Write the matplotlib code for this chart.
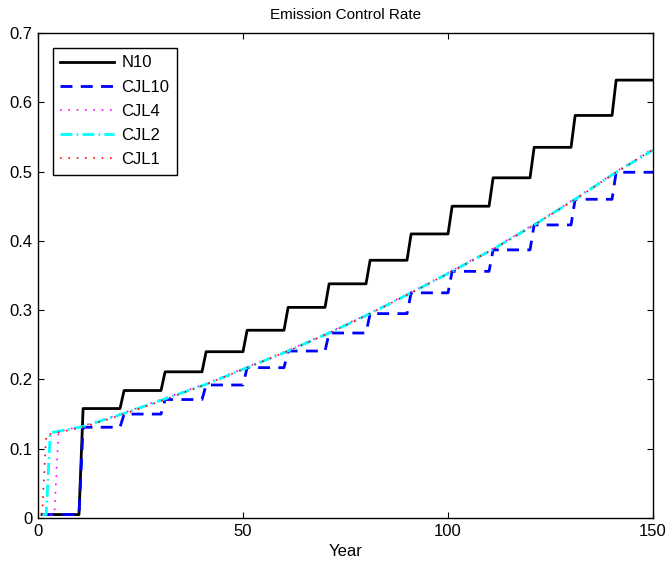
import matplotlib
matplotlib.use("Agg")
import matplotlib.pyplot as plt
import numpy as np

plt.rcParams['font.family'] = ['Liberation Sans', 'DejaVu Sans']

# N10 and CJL10: one control rate per 10-year decision period (years 1..150)
period_starts = [1, 11, 21, 31, 41, 51, 61, 71, 81, 91, 101, 111, 121, 131, 141]
n10_levels = [0.005, 0.158, 0.184, 0.211, 0.240, 0.271, 0.304, 0.338, 0.372,
              0.410, 0.450, 0.491, 0.535, 0.581, 0.632]
cjl10_levels = [0.005, 0.131, 0.150, 0.171, 0.192, 0.217, 0.241, 0.267, 0.295,
                0.325, 0.356, 0.387, 0.423, 0.460, 0.499]

# CJL4 / CJL2 / CJL1: finer decision periods, sampled at decade starts
cjl4_years = [1, 4, 5, 11, 21, 31, 41, 51, 61, 71, 81, 91, 101, 111, 121, 131, 141, 150]
cjl4_vals = [0.005, 0.005, 0.125, 0.133, 0.152, 0.173, 0.194, 0.218, 0.242, 0.268,
             0.296, 0.326, 0.357, 0.389, 0.424, 0.461, 0.500, 0.533]
cjl2_years = [1, 2, 3, 11, 21, 31, 41, 51, 61, 71, 81, 91, 101, 111, 121, 131, 141, 150]
cjl2_vals = [0.005, 0.005, 0.123, 0.132, 0.151, 0.172, 0.193, 0.217, 0.241, 0.267,
             0.295, 0.325, 0.356, 0.388, 0.423, 0.460, 0.499, 0.531]
cjl1_years = [1, 2, 11, 21, 31, 41, 51, 61, 71, 81, 91, 101, 111, 121, 131, 141, 150]
cjl1_vals = [0.005, 0.120, 0.131, 0.150, 0.171, 0.193, 0.217, 0.241, 0.267,
             0.295, 0.325, 0.356, 0.388, 0.423, 0.460, 0.499, 0.532]

labels = ['N10', 'CJL10', 'CJL4', 'CJL2', 'CJL1']
x_ticks = [0, 50, 100, 150]
y_ticks = [0, 0.1, 0.2, 0.3, 0.4, 0.5, 0.6, 0.7]
y_ticklabels = ['0', '0.1', '0.2', '0.3', '0.4', '0.5', '0.6', '0.7']

years = np.arange(1, 151)


def expand(starts, levels):
    idx = np.searchsorted(starts, years, side='right') - 1
    return np.asarray(levels)[idx]


fig = plt.figure(figsize=(6.7, 5.63), dpi=100)
ax = fig.add_axes([0.0567, 0.0799, 0.918, 0.8615])

ax.plot(years, expand(period_starts, n10_levels), color='black', lw=2.0,
        label=labels[0])
ax.plot(years, expand(period_starts, cjl10_levels), color='#0000ff', lw=2.0,
        dashes=(4.3, 3.0), label=labels[1])
ax.plot(cjl4_years, cjl4_vals, color='#ff00ff', lw=1.2, dashes=(1, 4),
        label=labels[2])
ax.plot(cjl2_years, cjl2_vals, color='#00ffff', lw=2.0,
        dashes=(4.3, 1.5, 0.6, 1.5), label=labels[3])
ax.plot(cjl1_years, cjl1_vals, color='#ff0000', lw=1.2, dashes=(1, 4),
        label=labels[4])

ax.set_xlim(0, 150)
ax.set_ylim(0, 0.7)
ax.set_xticks(x_ticks)
ax.set_xticklabels([str(t) for t in x_ticks])
ax.set_yticks(y_ticks)
ax.set_yticklabels(y_ticklabels)
ax.tick_params(direction='in', length=4, width=0.8, top=True, right=True,
               labelsize=12, pad=4)
for s in ax.spines.values():
    s.set_linewidth(1.0)

ax.set_title('Emission Control Rate', fontsize=11, pad=10)
ax.set_xlabel('Year', fontsize=12, labelpad=4)

leg = ax.legend(loc='upper left', fontsize=12, frameon=True, fancybox=False,
                edgecolor='black', handlelength=3.2, handletextpad=0.45,
                labelspacing=0.55, borderpad=0.45, borderaxespad=0.9)
leg.get_frame().set_linewidth(1.0)
leg.get_frame().set_alpha(1)

fig.savefig('out.png', dpi=100)
